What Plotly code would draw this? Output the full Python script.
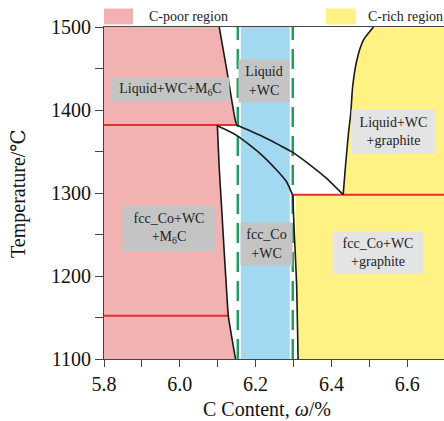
import plotly.graph_objects as go

# ---- phase boundaries (C content in wt.%, temperature in degC) ----
poor_upper_x = [6.104, 6.124, 6.146, 6.150]
poor_upper_t = [1500, 1448, 1388, 1382]

poor_lower_x = [6.099, 6.104, 6.110, 6.117, 6.125, 6.128, 6.147]
poor_lower_t = [1382, 1330, 1285, 1230, 1171, 1152, 1100]

liquidus_x = [6.150, 6.212, 6.264, 6.299, 6.344, 6.388, 6.431]
liquidus_t = [1382, 1369.5, 1357.4, 1348.7, 1333.7, 1317.4, 1298]

solvus_x = [6.099, 6.150, 6.212, 6.256, 6.282, 6.297]
solvus_t = [1381, 1369.5, 1347.5, 1327.4, 1313.3, 1298]

rich_lower_x = [6.298, 6.302, 6.308, 6.312]
rich_lower_t = [1298, 1252, 1192, 1100]

rich_upper_x = [6.431, 6.437, 6.445, 6.451, 6.456, 6.467, 6.484, 6.511]
rich_upper_t = [1298, 1332, 1372, 1396, 1428, 1460, 1484, 1500]

# invariant (eutectic / eutectoid) temperatures
iso_t = [1382, 1152, 1298]
iso_x0 = [5.8, 5.8, 6.298]
iso_x1 = [6.150, 6.128, 6.7]

# two-phase window marked by dashed lines
window_x = [6.153, 6.298]

# region labels
label_text = ["Liquid+WC+M<sub>6</sub>C", "Liquid<br>+WC", "Liquid+WC<br>+graphite",
              "fcc_Co+WC<br>+M<sub>6</sub>C", "fcc_Co<br>+WC", "fcc_Co+WC<br>+graphite"]
label_x = [5.9755, 6.221, 6.564, 5.9715, 6.2274, 6.523]
label_t = [1424.2, 1435, 1373.7, 1257.2, 1238.3, 1228]

x_range = [5.8, 6.697]
t_range = [1100, 1500]

PINK = "#f2b2b2"
BLUE = "#a2d8f0"
YELLOW = "#fff284"
RED = "#e03131"
GREEN = "#1f9e5f"
FONT = "Liberation Serif, Times New Roman, DejaVu Serif, serif"

fig = go.Figure()

# C-poor region (pink)
pink_x = [x_range[0], x_range[0]] + poor_upper_x + poor_lower_x + [x_range[0]]
pink_t = [t_range[0], t_range[1]] + poor_upper_t + poor_lower_t + [t_range[0]]
fig.add_trace(go.Scatter(x=pink_x, y=pink_t, fill="toself", fillcolor=PINK,
                         mode="none", hoverinfo="skip"))

# C-rich region (yellow)
yel_x = rich_upper_x + [x_range[1], x_range[1]] + rich_lower_x[::-1] + [rich_upper_x[0]]
yel_t = rich_upper_t + [t_range[1], t_range[0]] + rich_lower_t[::-1] + [rich_upper_t[0]]
fig.add_trace(go.Scatter(x=yel_x, y=yel_t, fill="toself", fillcolor=YELLOW,
                         mode="none", hoverinfo="skip"))

# blue window between the dashed lines
bx0, bx1 = window_x[0] + 0.004, window_x[1] - 0.004
fig.add_trace(go.Scatter(x=[bx0, bx1, bx1, bx0, bx0],
                         y=[t_range[0], t_range[0], t_range[1], t_range[1], t_range[0]],
                         fill="toself", fillcolor=BLUE, mode="none", hoverinfo="skip"))

# dashed window lines with a white halo
for wx in window_x:
    fig.add_trace(go.Scatter(x=[wx, wx], y=t_range, mode="lines",
                             line=dict(color="white", width=6), hoverinfo="skip"))
    fig.add_trace(go.Scatter(x=[wx, wx], y=t_range, mode="lines",
                             line=dict(color=GREEN, width=2.5, dash="20px,9px"),
                             hoverinfo="skip"))

# invariant lines
for t, a, b in zip(iso_t, iso_x0, iso_x1):
    fig.add_trace(go.Scatter(x=[a, b], y=[t, t], mode="lines",
                             line=dict(color=RED, width=2), hoverinfo="skip"))

# phase boundaries
for bx, bt in [(poor_upper_x, poor_upper_t), (poor_lower_x, poor_lower_t),
               (liquidus_x, liquidus_t), (solvus_x, solvus_t),
               (rich_lower_x, rich_lower_t), (rich_upper_x, rich_upper_t)]:
    fig.add_trace(go.Scatter(x=bx, y=bt, mode="lines",
                             line=dict(color="#1a1a1a", width=1.6, shape="spline", smoothing=0.6),
                             hoverinfo="skip"))

# label boxes: (width, height, background) in px
box_style = [(117, 23, "#c4c4c4"), (50, 42, "#c4c4c4"), (83, 43, "#e4e4e4"),
             (92, 45, "#c4c4c4"), (51, 42, "#c4c4c4"), (90, 41, "#e4e4e4")]
for txt, lx, lt, (w, h, bg) in zip(label_text, label_x, label_t, box_style):
    fig.add_annotation(x=lx, y=lt, text=txt, showarrow=False, width=w, height=h,
                       bgcolor=bg, borderpad=0, align="center", valign="middle",
                       font=dict(family=FONT, size=14, color="#222"))

# legend swatches and texts (paper coordinates)
fig.add_shape(type="rect", xref="paper", yref="paper", x0=0.0, x1=0.0853,
              y0=1.0075, y1=1.0556, fillcolor=PINK, line_width=0)
fig.add_shape(type="rect", xref="paper", yref="paper", x0=0.653, x1=0.741,
              y0=1.0075, y1=1.0556, fillcolor=YELLOW, line_width=0)
fig.add_annotation(xref="paper", yref="paper", x=0.1265, y=1.0316, xanchor="left",
                   yanchor="middle", text="C-poor region", showarrow=False,
                   font=dict(family=FONT, size=14, color="#222"))
fig.add_annotation(xref="paper", yref="paper", x=0.7706, y=1.0316, xanchor="left",
                   yanchor="middle", text="C-rich region", showarrow=False,
                   font=dict(family=FONT, size=14, color="#222"))

# axis titles
fig.add_annotation(xref="paper", yref="paper", x=-0.253, y=0.5, textangle=-90,
                   text="Temperature/℃", showarrow=False, xanchor="center", yanchor="middle",
                   font=dict(family=FONT, size=20, color="#111"))
fig.add_annotation(xref="paper", yref="paper", x=0.479, y=-0.150,
                   text="C Content, <i>ω</i>/%", showarrow=False, xanchor="center",
                   yanchor="middle", font=dict(family=FONT, size=20, color="#111"))

fig.update_layout(
    width=444, height=421,
    margin=dict(l=104, r=0, t=26.5, b=62),
    paper_bgcolor="white", plot_bgcolor="white",
    showlegend=False,
    font=dict(family=FONT, size=20, color="#111"),
    xaxis=dict(range=x_range, tickvals=[5.8, 6.0, 6.2, 6.4, 6.6],
               ticktext=["5.8", "6.0", "6.2", "6.4", "6.6"],
               ticks="outside", ticklen=7, tickcolor="#444", showgrid=False, zeroline=False,
               showline=True, linecolor="#444", linewidth=1, mirror=True,
               minor=dict(tickvals=[5.9, 6.1, 6.3, 6.5], ticks="outside", ticklen=7,
                          tickcolor="#444"),
               tickfont=dict(family=FONT, size=20, color="#111")),
    yaxis=dict(range=t_range, tickvals=[1100, 1200, 1300, 1400, 1500],
               ticks="outside", ticklen=8, tickcolor="#444", showgrid=False, zeroline=False,
               showline=True, linecolor="#444", linewidth=1,
               minor=dict(tickvals=[1150, 1250, 1350, 1450], ticks="outside", ticklen=8,
                          tickcolor="#444"),
               tickfont=dict(family=FONT, size=20, color="#111")),
)

fig.write_html("out.html")
